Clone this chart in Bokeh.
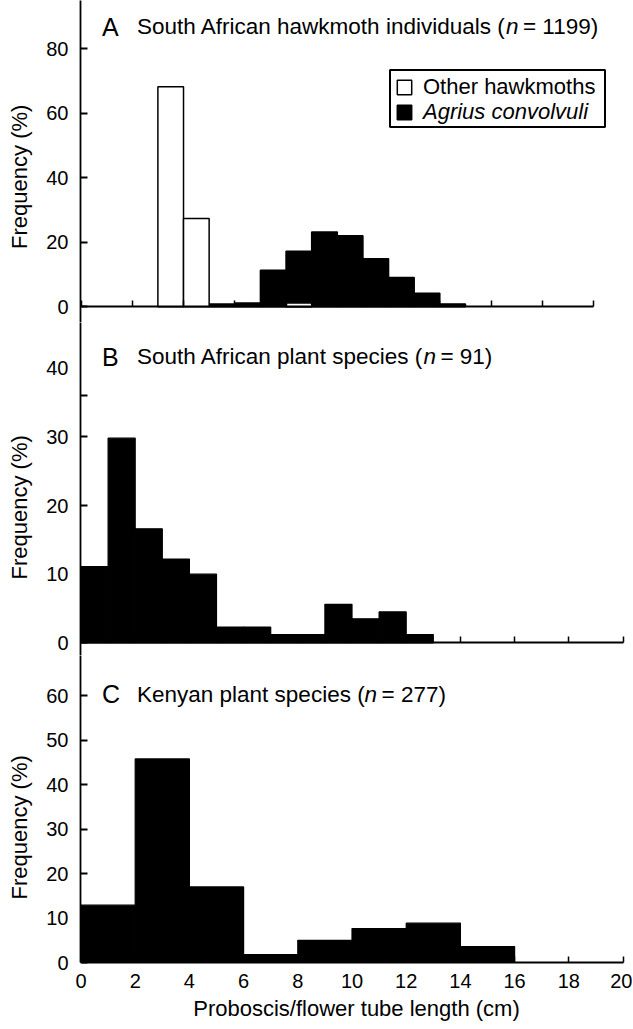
from bokeh.plotting import figure
from bokeh.layouts import column
from bokeh.models import Range1d, FixedTicker, Label, Legend, LegendItem, BoxAnnotation
from bokeh.embed import file_html
from bokeh.resources import INLINE

# ---------------- data ----------------
a_other_bins = [3, 4, 8]
a_other_freq = [68.2, 27.4, 1.2]
a_agrius_bins = [5, 6, 7, 8, 9, 10, 11, 12, 13, 14]
a_agrius_freq = [0.9, 1.2, 11.3, 17.2, 23.2, 22.0, 14.9, 9.1, 4.2, 0.9]
a_bin_width = 1

b_bins = [0, 1, 2, 3, 4, 5, 6, 7, 8, 9, 10, 11, 12]
b_freq = [11.1, 29.8, 16.6, 12.2, 10.0, 2.3, 2.3, 1.2, 1.2, 5.6, 3.5, 4.5, 1.2]
b_bin_width = 1

c_bins = [0, 2, 4, 6, 8, 10, 12, 14]
c_freq = [12.9, 45.8, 17.0, 1.8, 5.0, 7.65, 8.85, 3.6]
c_bin_width = 2

x_ticks = [0, 2, 4, 6, 8, 10, 12, 14, 16, 18, 20]
a_y_ticks = [0, 20, 40, 60, 80]
b_y_ticks = [0, 10, 20, 30, 40]
b_y_tick_marks = [0, 10, 20, 30, 36]
c_y_ticks = [0, 10, 20, 30, 40, 50, 60]

panel_letters = ["A", "B", "C"]
title_pre = ["South African hawkmoth individuals (", "South African plant species (", "Kenyan plant species ("]
title_n = "n"
title_post = ["= 1199)", "= 91)", "= 277)"]
legend_labels = ["Other hawkmoths", "Agrius convolvuli"]
y_label = "Frequency (%)"
x_label = "Proboscis/flower tube length (cm)"

# ---------------- layout (page pixels) ----------------
FONT = "Liberation Sans"
FIG_W = 632
FRAME_L = 80.0
FRAME_R = 632.0
# frame_top, frame_bottom, y0 px, px per %, x0 px, px per cm, title baseline,
# number of no-break spaces that shift the frame-centred y title down to the tick span
GEOM = {
    "A": (0, 322, 306.3, 3.225, 80.5, 25.63, 26.0, 5),
    "B": (322, 655, 642.3, 6.865, 80.5, 27.1, 356.0, 6),
    "C": (655, 962, 962.0, 4.444, 80.5, 27.1, 693.5, 6),
}
C_BOTTOM = 66
TITLE_PX = 22.5
GAP_EM = 0.2
NBSP = "\u00a0"

HW = {' ': 278, '(': 333, ')': 333, '=': 584, '0': 556, '1': 556, '2': 556, '3': 556, '4': 556,
      '5': 556, '6': 556, '7': 556, '8': 556, '9': 556, 'A': 667, 'B': 667, 'C': 722, 'K': 667,
      'S': 667, 'a': 556, 'c': 500, 'd': 556, 'e': 556, 'f': 278, 'h': 556, 'i': 222, 'k': 500,
      'l': 222, 'm': 833, 'n': 556, 'o': 556, 'p': 556, 'r': 333, 's': 500, 't': 278, 'u': 556,
      'v': 500, 'w': 722, 'y': 500}


def tw(s, size):
    return sum(HW.get(ch, 556) for ch in s) / 1000.0 * size


def lab(p, x, y, text, size, style="normal"):
    p.add_layout(Label(x=x, y=y, x_units="screen", y_units="screen", text=text,
                       text_font=FONT, text_font_size=f"{size}px", text_font_style=style,
                       text_baseline="alphabetic", text_align="left", text_color="black"))


def make_panel(key, yticks, bottom_border=0):
    top, bot, y0, ppy, x0, ppx, base, pad = GEOM[key]
    frame_h = bot - top
    p = figure(width=FIG_W, height=int(frame_h + bottom_border),
               x_range=Range1d((FRAME_L - x0) / ppx, (FRAME_R - x0) / ppx),
               y_range=Range1d((y0 - bot) / ppy, (y0 - top) / ppy),
               min_border_left=int(FRAME_L), min_border_right=0, min_border_top=0,
               min_border_bottom=bottom_border,
               output_backend="svg", toolbar_location=None)
    p.xgrid.visible = False
    p.ygrid.visible = False
    p.outline_line_color = None
    p.background_fill_color = "white"
    p.border_fill_color = "white"

    ya = p.yaxis[0]
    ya.ticker = FixedTicker(ticks=yticks)
    ya.major_tick_in = 7
    ya.major_tick_out = 0
    ya.minor_tick_line_color = None
    ya.axis_line_width = 1.8
    ya.major_tick_line_width = 1.8
    ya.major_label_text_font = FONT
    ya.major_label_text_font_size = "20px"
    ya.major_label_text_color = "black"
    ya.major_label_standoff = 12
    ya.axis_label = y_label + NBSP * pad
    ya.axis_label_text_font = FONT
    ya.axis_label_text_font_size = "22px"
    ya.axis_label_text_font_style = "normal"
    ya.axis_label_text_color = "black"
    ya.axis_label_standoff = 11

    xa = p.xaxis[0]
    xa.ticker = FixedTicker(ticks=x_ticks)
    xa.bounds = (0, 20)
    xa.major_tick_in = 6
    xa.major_tick_out = 0
    xa.minor_tick_line_color = None
    xa.axis_line_width = 1.8
    xa.major_tick_line_width = 1.5

    # panel title: letter + text with italic n
    i = ["A", "B", "C"].index(key)
    sy = bot - base
    lab(p, 101.5 - FRAME_L, sy, panel_letters[i], 25)
    sx = 136.5 - FRAME_L
    lab(p, sx, sy, title_pre[i], TITLE_PX)
    sx += tw(title_pre[i], TITLE_PX)
    lab(p, sx, sy, title_n, TITLE_PX, style="italic")
    sx += tw(title_n, TITLE_PX) + GAP_EM * TITLE_PX
    lab(p, sx, sy, title_post[i], TITLE_PX)
    return p


# ---------------- panel A ----------------
pA = make_panel("A", a_y_ticks)
pA.xaxis[0].fixed_location = 0
pA.xaxis[0].major_label_overrides = {t: "" for t in x_ticks}
r_agr = pA.quad(left=a_agrius_bins, right=[b + a_bin_width for b in a_agrius_bins],
                bottom=0, top=a_agrius_freq, fill_color="black", line_color="black", line_width=1.5)
r_oth = pA.quad(left=a_other_bins, right=[b + a_bin_width for b in a_other_bins],
                bottom=0, top=a_other_freq, fill_color="white", line_color="black", line_width=1.5)

_, botA, y0A, ppyA, x0A, ppxA, _, _ = GEOM["A"]
pA.add_layout(BoxAnnotation(left=(389.5 - x0A) / ppxA, right=(604.5 - x0A) / ppxA,
                            top=(y0A - 69.5) / ppyA, bottom=(y0A - 126.5) / ppyA,
                            fill_color="white", fill_alpha=1.0,
                            line_color="black", line_alpha=1.0, line_width=2))
for lab_txt, rend, style, cy in [(legend_labels[0], r_oth, "normal", 86.7),
                                 (legend_labels[1], r_agr, "italic", 111.0)]:
    leg = Legend(items=[LegendItem(label=lab_txt, renderers=[rend])],
                 location=(395 - FRAME_L, botA - (cy + 13.5)),
                 glyph_width=18, glyph_height=18, label_standoff=10,
                 padding=0, margin=0, spacing=0,
                 border_line_color=None, background_fill_alpha=0,
                 label_text_font=FONT, label_text_font_size="22px",
                 label_text_font_style=style, label_text_color="black")
    pA.add_layout(leg)

# ---------------- panel B ----------------
pB = make_panel("B", b_y_ticks)
pB.xaxis[0].fixed_location = 0
pB.xaxis[0].major_label_overrides = {t: "" for t in x_ticks}
pB.yaxis[0].ticker = FixedTicker(ticks=b_y_ticks, minor_ticks=b_y_tick_marks)
pB.yaxis[0].major_tick_line_color = None
pB.yaxis[0].minor_tick_line_color = "black"
pB.yaxis[0].minor_tick_in = 7
pB.yaxis[0].minor_tick_out = 0
pB.yaxis[0].minor_tick_line_width = 1.8
pB.quad(left=b_bins, right=[b + b_bin_width for b in b_bins], bottom=0, top=b_freq,
        fill_color="black", line_color="black", line_width=1.2)

# ---------------- panel C ----------------
pC = make_panel("C", c_y_ticks, bottom_border=C_BOTTOM)
xa = pC.xaxis[0]
xa.major_label_text_font = FONT
xa.major_label_text_font_size = "20px"
xa.major_label_text_color = "black"
xa.major_label_standoff = 11
xa.axis_label = x_label
xa.axis_label_text_font = FONT
xa.axis_label_text_font_size = "22px"
xa.axis_label_text_font_style = "normal"
xa.axis_label_text_color = "black"
xa.axis_label_standoff = 5
pC.quad(left=c_bins, right=[b + c_bin_width for b in c_bins], bottom=0, top=c_freq,
        fill_color="black", line_color="black", line_width=1.2)

layout = column(pA, pB, pC, spacing=0)
open("out.html", "w").write(file_html(layout, INLINE))
